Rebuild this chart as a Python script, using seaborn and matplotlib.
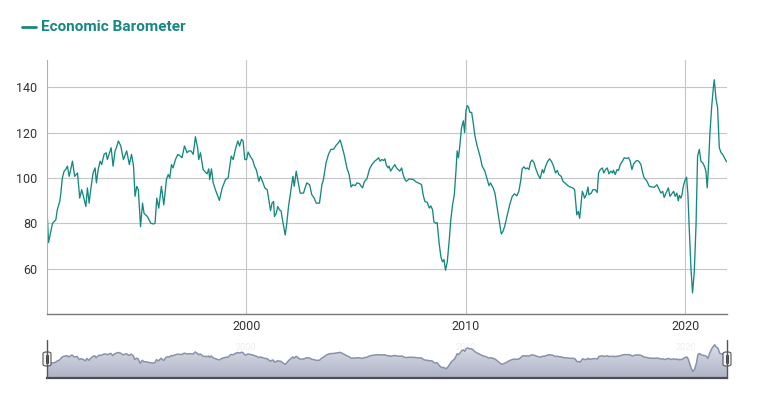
import numpy as np
import matplotlib
matplotlib.use("Agg")
import matplotlib.pyplot as plt
from matplotlib.patches import Polygon, FancyBboxPatch
from matplotlib.lines import Line2D
import seaborn as sns

# decimal year / barometer value
years = [
    1990.95, 1991.00, 1991.18, 1991.33, 1991.40, 1991.51, 1991.56, 1991.63, 1991.71, 1991.78,
    1991.86, 1991.94, 1992.01, 1992.09, 1992.19, 1992.32, 1992.42, 1992.51, 1992.59, 1992.70,
    1992.77, 1992.85, 1992.92, 1993.03, 1993.12, 1993.18, 1993.26, 1993.35, 1993.42, 1993.53,
    1993.62, 1993.68, 1993.85, 1993.94, 1994.03, 1994.09, 1994.18, 1994.29, 1994.41, 1994.56,
    1994.68, 1994.78, 1994.87, 1994.94, 1995.02, 1995.09, 1995.19, 1995.28, 1995.35, 1995.50,
    1995.66, 1995.78, 1995.85, 1995.93, 1996.02, 1996.14, 1996.25, 1996.37, 1996.45, 1996.52,
    1996.60, 1996.67, 1996.78, 1996.89, 1997.01, 1997.08, 1997.19, 1997.31, 1997.39, 1997.49,
    1997.59, 1997.69, 1997.80, 1997.84, 1997.92, 1998.04, 1998.15, 1998.22, 1998.30, 1998.34,
    1998.42, 1998.50, 1998.60, 1998.78, 1998.91, 1999.06, 1999.18, 1999.32, 1999.41, 1999.51,
    1999.62, 1999.70, 1999.79, 1999.86, 1999.94, 2000.02, 2000.09, 2000.20, 2000.30, 2000.38,
    2000.47, 2000.58, 2000.65, 2000.77, 2000.85, 2000.96, 2001.03, 2001.11, 2001.18, 2001.25,
    2001.29, 2001.37, 2001.44, 2001.52, 2001.59, 2001.67, 2001.78, 2001.85, 2001.93, 2002.04,
    2002.13, 2002.19, 2002.28, 2002.35, 2002.46, 2002.61, 2002.76, 2002.89, 2002.99, 2003.10,
    2003.19, 2003.34, 2003.45, 2003.52, 2003.64, 2003.75, 2003.86, 2003.98, 2004.10, 2004.21,
    2004.28, 2004.36, 2004.46, 2004.59, 2004.69, 2004.78, 2004.86, 2004.97, 2005.04, 2005.16,
    2005.22, 2005.30, 2005.39, 2005.50, 2005.62, 2005.73, 2005.85, 2005.95, 2006.03, 2006.10,
    2006.18, 2006.26, 2006.32, 2006.39, 2006.47, 2006.51, 2006.58, 2006.67, 2006.77, 2006.85,
    2006.92, 2007.00, 2007.08, 2007.15, 2007.23, 2007.30, 2007.43, 2007.61, 2007.76, 2007.91,
    2007.99, 2008.06, 2008.14, 2008.25, 2008.34, 2008.41, 2008.49, 2008.55, 2008.63, 2008.70,
    2008.79, 2008.87, 2008.94, 2009.01, 2009.08, 2009.16, 2009.25, 2009.32, 2009.40, 2009.48,
    2009.55, 2009.61, 2009.67, 2009.73, 2009.81, 2009.89, 2009.95, 2010.01, 2010.07, 2010.13,
    2010.19, 2010.27, 2010.34, 2010.42, 2010.52, 2010.65, 2010.75, 2010.87, 2010.98, 2011.06,
    2011.13, 2011.25, 2011.33, 2011.40, 2011.48, 2011.54, 2011.62, 2011.69, 2011.77, 2011.88,
    2012.00, 2012.12, 2012.22, 2012.33, 2012.42, 2012.50, 2012.57, 2012.65, 2012.73, 2012.80,
    2012.88, 2012.95, 2013.03, 2013.11, 2013.18, 2013.29, 2013.39, 2013.49, 2013.55, 2013.64,
    2013.74, 2013.82, 2013.90, 2014.00, 2014.09, 2014.17, 2014.24, 2014.35, 2014.43, 2014.55,
    2014.65, 2014.76, 2014.88, 2014.96, 2015.00, 2015.06, 2015.13, 2015.19, 2015.26, 2015.31,
    2015.37, 2015.41, 2015.49, 2015.57, 2015.61, 2015.72, 2015.79, 2015.90, 2015.99, 2016.05,
    2016.13, 2016.22, 2016.29, 2016.37, 2016.45, 2016.52, 2016.61, 2016.69, 2016.73, 2016.81,
    2016.89, 2016.96, 2017.04, 2017.14, 2017.22, 2017.33, 2017.42, 2017.49, 2017.57, 2017.65,
    2017.75, 2017.83, 2017.90, 2017.98, 2018.06, 2018.13, 2018.24, 2018.36, 2018.48, 2018.59,
    2018.71, 2018.82, 2018.89, 2018.97, 2019.04, 2019.12, 2019.23, 2019.30, 2019.38, 2019.47,
    2019.54, 2019.62, 2019.68, 2019.73, 2019.80, 2019.85, 2019.91, 2019.98, 2020.06, 2020.12,
    2020.18, 2020.26, 2020.33, 2020.41, 2020.49, 2020.56, 2020.64, 2020.71, 2020.79, 2020.87,
    2020.94, 2021.00, 2021.06, 2021.12, 2021.20, 2021.28, 2021.32, 2021.40, 2021.47, 2021.55,
    2021.63, 2021.70, 2021.78, 2021.88,
]
values = [
    82.0, 71.5, 80.0, 81.5, 86.0, 89.6, 93.3, 100.0, 103.0, 103.7,
    105.2, 100.7, 103.7, 107.4, 100.7, 102.2, 91.1, 94.8, 91.9, 87.4,
    95.6, 88.9, 94.8, 102.2, 104.4, 97.8, 103.7, 107.4, 105.9, 110.4,
    111.1, 108.1, 113.3, 105.2, 111.9, 113.3, 116.3, 114.1, 108.1, 111.9,
    105.9, 110.4, 105.2, 91.9, 96.3, 94.8, 78.5, 88.9, 84.4, 83.0,
    80.0, 79.7, 80.0, 91.1, 86.7, 96.3, 88.1, 99.3, 101.5, 100.0,
    105.9, 104.4, 108.1, 110.4, 109.6, 108.9, 114.1, 111.1, 111.9, 111.9,
    110.4, 118.2, 112.6, 108.1, 111.1, 103.7, 102.5, 101.8, 104.0, 99.3,
    104.0, 97.8, 94.8, 90.1, 95.6, 99.3, 100.0, 109.6, 108.1, 112.6,
    116.3, 114.1, 117.0, 116.3, 108.1, 108.1, 111.4, 109.3, 107.9, 105.2,
    103.4, 98.5, 100.7, 97.8, 95.6, 94.8, 90.4, 85.6, 88.9, 89.6,
    83.0, 84.4, 87.4, 85.9, 85.5, 80.7, 74.8, 80.0, 87.4, 94.8,
    100.7, 96.3, 103.0, 99.3, 93.3, 93.3, 97.8, 97.0, 92.6, 91.1,
    88.9, 88.9, 97.0, 99.3, 106.7, 110.4, 112.6, 112.6, 114.4, 115.6,
    116.7, 114.1, 110.4, 104.4, 101.5, 96.0, 97.0, 96.6, 97.8, 97.5,
    96.6, 95.6, 98.5, 99.6, 104.0, 105.9, 107.4, 108.1, 108.9, 107.4,
    108.1, 107.7, 108.4, 105.5, 104.4, 105.2, 103.0, 104.4, 105.9, 104.4,
    103.7, 103.0, 104.4, 101.5, 99.3, 98.5, 99.6, 99.3, 98.1, 97.5,
    97.0, 92.6, 89.6, 89.2, 86.7, 87.7, 85.9, 80.7, 80.0, 80.3,
    71.1, 65.2, 63.0, 64.0, 59.3, 63.0, 72.6, 81.5, 88.1, 92.6,
    102.2, 111.9, 108.9, 114.1, 122.2, 125.2, 120.0, 129.6, 131.9, 131.1,
    128.9, 128.9, 124.4, 118.5, 114.1, 109.6, 105.2, 103.0, 99.3, 96.6,
    97.8, 95.6, 93.3, 88.9, 84.0, 80.0, 75.3, 76.3, 78.5, 83.0,
    88.1, 91.9, 93.0, 92.1, 94.1, 98.5, 104.0, 104.9, 104.0, 104.4,
    103.7, 107.0, 107.9, 106.7, 104.4, 101.5, 99.7, 103.7, 102.2, 105.2,
    107.4, 108.4, 107.4, 105.2, 102.2, 103.3, 101.5, 100.7, 98.5, 97.5,
    96.6, 96.0, 95.6, 94.8, 90.4, 83.7, 85.2, 82.2, 88.9, 94.1,
    92.6, 91.1, 92.6, 96.0, 92.6, 93.3, 94.8, 94.8, 93.6, 102.2,
    103.7, 104.4, 102.2, 103.7, 104.4, 101.8, 103.0, 102.2, 103.4, 101.5,
    103.7, 103.3, 105.9, 107.4, 108.9, 108.6, 108.9, 107.4, 103.7, 106.2,
    107.4, 107.7, 107.1, 105.9, 102.2, 100.0, 98.8, 96.3, 96.0, 95.9,
    97.0, 94.8, 93.3, 94.1, 91.4, 93.3, 95.6, 91.9, 92.9, 94.1,
    91.9, 93.3, 89.9, 92.3, 91.1, 92.6, 96.3, 98.8, 100.3, 92.6,
    77.8, 60.0, 49.3, 58.5, 79.3, 109.6, 112.6, 107.4, 106.7, 105.2,
    103.0, 95.6, 105.9, 119.3, 131.1, 140.0, 143.3, 134.8, 131.1, 113.3,
    111.1, 110.4, 108.9, 107.1,
]
y_ticks = [60, 80, 100, 120, 140]
x_ticks = [2000, 2010, 2020]
series_name = "Economic Barometer"

TEAL = "#15897f"
NAV_LINE = "#8a91ab"

sns.set_style("white")
plt.rcParams["font.family"] = ["Roboto", "DejaVu Sans"]

W, H = 779, 400
fig = plt.figure(figsize=(W / 100, H / 100), dpi=100)


def fx(px):
    return px / W


def fy(py):
    return 1 - py / H


# main chart
ax = fig.add_axes([fx(47), fy(314), fx(727 - 47), (314 - 60) / H])
sns.lineplot(x=years, y=values, ax=ax, color=TEAL, linewidth=0.95, estimator=None)
ax.set_xlim(1990.93, 2021.9)
ax.set_ylim(40, 152)
ax.set_yticks(y_ticks)
ax.set_xticks(x_ticks)
ax.set_xticklabels([str(t) for t in x_ticks])
ax.grid(True, color="#c6c6c6", linewidth=0.8)
ax.set_axisbelow(True)
for s in ["top", "right"]:
    ax.spines[s].set_visible(False)
ax.spines["left"].set_color("#b0b0b0")
ax.spines["left"].set_linewidth(0.8)
ax.spines["bottom"].set_color("#7a7a7a")
ax.spines["bottom"].set_linewidth(1.0)
ax.tick_params(axis="both", length=0, labelsize=9, colors="#333333")
ax.tick_params(axis="y", pad=7)
ax.tick_params(axis="x", pad=4)
ax.set_xlabel("")
ax.set_ylabel("")

# legend
fig.add_artist(Line2D([fx(22), fx(36)], [fy(27), fy(27)], color=TEAL, linewidth=2.0))
fig.text(fx(41), fy(27), series_name, color=TEAL, fontsize=11, fontweight="bold",
         va="center", ha="left")

# navigator
nav = fig.add_axes([fx(47), fy(377.7), fx(727 - 47), 37.7 / H])
nav_bottom, nav_top = 28, 160
grad = np.linspace(0, 1, 100).reshape(-1, 1)
img = nav.imshow(grad, extent=[years[0], years[-1], nav_bottom, nav_top], origin="lower",
                 cmap=matplotlib.colors.LinearSegmentedColormap.from_list(
                     "nav", ["#aeb3c6", "#e2e4ec"]),
                 aspect="auto", zorder=1)
poly = Polygon(list(zip(years, values)) + [(years[-1], nav_bottom), (years[0], nav_bottom)],
               closed=True, facecolor="none", edgecolor="none")
nav.add_patch(poly)
img.set_clip_path(poly)
sns.lineplot(x=years, y=values, ax=nav, color=NAV_LINE, linewidth=1.1, estimator=None, zorder=2)
nav.set_xlim(years[0], years[-1])
nav.set_ylim(nav_bottom, nav_top)
nav.set_yticks([])
nav.set_xticks(x_ticks)
nav.set_xticklabels([str(t) for t in x_ticks])
nav.xaxis.tick_top()
# faint navigator labels sit just inside the top of the navigator
nav.tick_params(axis="x", length=0, labelsize=6.5, colors="#eeeeee", pad=-9)
for s in ["top", "right", "left"]:
    nav.spines[s].set_visible(False)
nav.spines["bottom"].set_color("#4d4d4d")
nav.spines["bottom"].set_linewidth(1.6)
nav.set_xlabel("")
nav.set_ylabel("")

# navigator handles
for hx in (47, 727):
    fig.add_artist(Line2D([fx(hx), fx(hx)], [fy(340), fy(378)], color="#555555", linewidth=1.0))
    fig.add_artist(FancyBboxPatch((fx(hx - 4), fy(366)), fx(8), 14 / H,
                                  boxstyle="round,pad=0,rounding_size=0.004",
                                  facecolor="#f4f4f4", edgecolor="#555555", linewidth=0.8,
                                  transform=fig.transFigure))
    for dx in (-1.2, 1.2):
        fig.add_artist(Line2D([fx(hx + dx), fx(hx + dx)], [fy(355), fy(363)],
                              color="#444444", linewidth=0.7))

fig.savefig("out.png", dpi=100)
